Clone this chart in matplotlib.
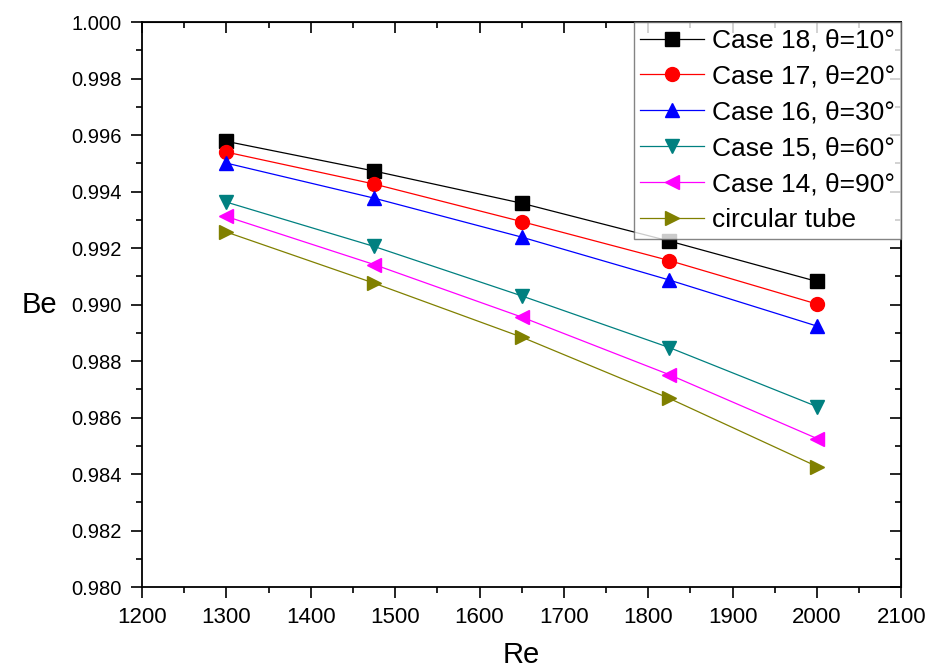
import matplotlib
matplotlib.use("Agg")
import matplotlib.pyplot as plt
from matplotlib.ticker import MultipleLocator, FormatStrFormatter

plt.rcParams['font.family'] = ['Liberation Sans', 'DejaVu Sans']

re_values = [1300, 1475, 1650, 1825, 2000]
case18 = [0.99578, 0.99473, 0.99359, 0.99225, 0.99082]
case17 = [0.99540, 0.99427, 0.99294, 0.99156, 0.99002]
case16 = [0.99501, 0.99377, 0.99239, 0.99087, 0.98924]
case15 = [0.99363, 0.99206, 0.99031, 0.98848, 0.98639]
case14 = [0.99312, 0.99142, 0.98956, 0.98752, 0.98526]
circular = [0.99257, 0.99076, 0.98885, 0.98668, 0.98427]

labels = ["Case 18, θ=10°", "Case 17, θ=20°", "Case 16, θ=30°",
          "Case 15, θ=60°", "Case 14, θ=90°", "circular tube"]
series = [case18, case17, case16, case15, case14, circular]
colors = ["#000000", "#FF0000", "#0000FF", "#008080", "#FF00FF", "#808000"]
markers = ["s", "o", "^", "v", "<", ">"]

fig = plt.figure(figsize=(9.25, 6.71), dpi=100)
ax = fig.add_axes([0.1535, 0.125, 0.821, 0.842])

for ys, lab, c, m in zip(series, labels, colors, markers):
    ax.plot(re_values, ys, color=c, marker=m, markersize=10, linewidth=0.9,
            label=lab, markeredgecolor=c)

ax.set_xlim(1200, 2100)
ax.set_ylim(0.980, 1.000)
ax.xaxis.set_major_locator(MultipleLocator(100))
ax.xaxis.set_minor_locator(MultipleLocator(50))
ax.yaxis.set_major_locator(MultipleLocator(0.002))
ax.yaxis.set_minor_locator(MultipleLocator(0.001))
ax.yaxis.set_major_formatter(FormatStrFormatter('%.3f'))

ax.tick_params(which='major', direction='out', length=8, width=1.2, pad=6.5)
ax.tick_params(which='minor', direction='out', length=4, width=1.2)
ax.tick_params(axis='x', labelsize=16)
ax.tick_params(axis='y', labelsize=14.5)
for s in ax.spines.values():
    s.set_linewidth(1.3)

secx = ax.secondary_xaxis('top')
secx.xaxis.set_major_locator(MultipleLocator(100))
secx.xaxis.set_minor_locator(MultipleLocator(50))
secx.tick_params(which='major', direction='in', length=8, width=1.2, labeltop=False)
secx.tick_params(which='minor', direction='in', length=4, width=1.2)
secy = ax.secondary_yaxis('right')
secy.yaxis.set_major_locator(MultipleLocator(0.002))
secy.yaxis.set_minor_locator(MultipleLocator(0.001))
secy.tick_params(which='major', direction='in', length=8, width=1.2, labelright=False)
secy.tick_params(which='minor', direction='in', length=4, width=1.2)

ax.set_xlabel("Re", fontsize=21, va='center', ha='center')
ax.set_ylabel("Be", fontsize=21, rotation=0, va='center', ha='center')
ax.xaxis.set_label_coords(0.5, -0.12)
ax.yaxis.set_label_coords(-0.135, 0.5)

leg = ax.legend(loc='upper right', fontsize=19, frameon=True, fancybox=False,
                edgecolor='#666666', borderaxespad=0.0, handlelength=2.4,
                handletextpad=0.3, labelspacing=0.45, borderpad=0.25)
leg.get_frame().set_linewidth(1.0)

fig.savefig("out.png", dpi=100)
